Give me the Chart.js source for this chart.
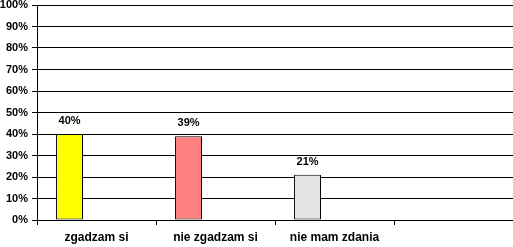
<!DOCTYPE html>
<html><head><meta charset="utf-8">
<script src="https://cdn.jsdelivr.net/npm/chart.js@4/dist/chart.umd.min.js"></script>
<style>html,body{margin:0;padding:0;background:#fff;}#wrap{width:513px;height:247px;position:relative;}</style>
</head><body><div id="wrap"><canvas id="c" width="513" height="247"></canvas></div>
<script>
const categories = ["zgadzam si", "nie zgadzam si", "nie mam zdania", ""];
const values = [40, 39, 21, null];
const barColors = ["#FFFF00", "#FF8080", "#E3E3E3", "#FFFFFF"];
const yTicks = [0, 10, 20, 30, 40, 50, 60, 70, 80, 90, 100];
const FONT = "'Liberation Sans', Arial, sans-serif";

const labelPlugin = {
  id: 'valLabels',
  afterDatasetsDraw(chart) {
    const ctx = chart.ctx;
    const meta = chart.getDatasetMeta(0);
    ctx.save();
    ctx.font = "bold 11px " + FONT;
    ctx.fillStyle = "#000";
    ctx.textAlign = "center";
    ctx.textBaseline = "alphabetic";
    meta.data.forEach((el, i) => {
      const v = values[i];
      if (v === null) return;
      ctx.fillText(v + "%", el.x, el.y - 10);
    });
    ctx.restore();
  }
};

new Chart(document.getElementById('c'), {
  type: 'bar',
  data: {
    labels: categories,
    datasets: [
      { data: values, backgroundColor: barColors, borderColor: "#000", borderWidth: 1, borderSkipped: false },
      { data: [null, null, null, null] },
      { data: [null, null, null, null] }
    ]
  },
  options: {
    responsive: false,
    animation: false,
    devicePixelRatio: 1,
    categoryPercentage: 0.68,
    barPercentage: 1,
    layout: { padding: { top: 5, right: 0, left: 0, bottom: 0 } },
    plugins: { legend: { display: false }, tooltip: { enabled: false } },
    scales: {
      x: {
        grid: { display: true, drawOnChartArea: false, drawTicks: true, tickLength: 5, color: "#000", offset: true },
        border: { display: true, color: "#000", width: 1 },
        ticks: { color: "#000", font: { family: FONT, size: 12, weight: 'bold' }, padding: 5, maxRotation: 0 },
        afterFit(s) { s.height = 27; s.paddingLeft = 0; s.paddingRight = 0; }
      },
      y: {
        min: 0, max: 100,
        afterBuildTicks(s) { s.ticks = yTicks.map(v => ({ value: v })); },
        grid: { color: "#000", lineWidth: 1, tickLength: 5 },
        border: { display: true, color: "#000", width: 1 },
        ticks: { color: "#000", font: { family: FONT, size: 11, weight: 'bold' }, padding: 4, callback: v => v + "%" },
        afterFit(s) { s.width = 37; s.paddingTop = 0; s.paddingBottom = 0; }
      }
    }
  },
  plugins: [labelPlugin]
});
</script></body></html>
